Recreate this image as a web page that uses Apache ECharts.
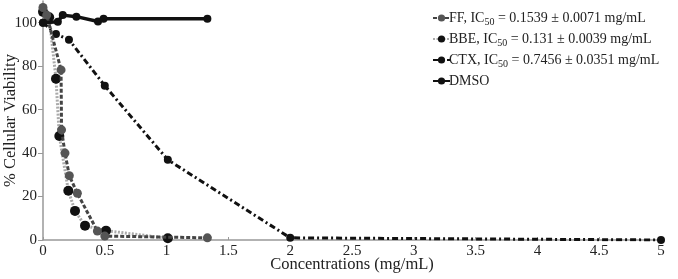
<!DOCTYPE html>
<html>
<head>
<meta charset="utf-8">
<script src="https://cdn.jsdelivr.net/npm/echarts@6/dist/echarts.min.js"></script>
<style>
  html, body { margin: 0; padding: 0; background: #fff; }
  #main { width: 678px; height: 279px; }
</style>
</head>
<body>
<div id="main"></div>
<script>
// data: [concentration mg/mL, % viability]
const ffData = [[0, 107], [0.03, 103.5], [0.146, 78.3], [0.15, 50.7], [0.178, 40], [0.213, 29.6], [0.278, 21.5], [0.44, 4.1], [0.5, 1.8], [1.33, 1]];
const bbeData = [[0, 105], [0.05, 102.5], [0.105, 74.2], [0.132, 47.9], [0.205, 22.7], [0.259, 13.4], [0.34, 6.6], [0.51, 4.3], [1.01, 0.8]];
const ctxData = [[0, 100], [0.105, 94.8], [0.21, 92.2], [0.5, 71], [1.01, 36.9], [2, 1], [5, 0]];
const dmsoData = [[0, 100], [0.12, 100.5], [0.16, 103.5], [0.27, 102.8], [0.445, 100.6], [0.49, 101.8], [1.33, 101.8]];

const yTicks = [0, 20, 40, 60, 80, 100];
const legendText = {
  FF: 'FF, IC{sub|50} = 0.1539 ± 0.0071 mg/mL',
  BBE: 'BBE, IC{sub|50} = 0.131 ± 0.0039 mg/mL',
  CTX: 'CTX, IC{sub|50} = 0.7456 ± 0.0351 mg/mL',
  DMSO: 'DMSO'
};

const serif = 'Liberation Serif';
const myChart = echarts.init(document.getElementById('main'));

myChart.setOption({
  animation: false,
  grid: { left: 43, right: 17, top: 1, bottom: 39, outerBoundsMode: 'none' },
  legend: {
    orient: 'vertical',
    left: 427,
    top: 6,
    itemWidth: 17,
    itemHeight: 9,
    itemGap: 5,
    data: ['FF', 'BBE', 'CTX', 'DMSO'],
    formatter: (name) => legendText[name],
    textStyle: {
      fontFamily: serif, fontSize: 14, color: '#222', padding: [0, 0, 0, -6],
      rich: { sub: { fontFamily: serif, fontSize: 10, color: '#222', verticalAlign: 'bottom', padding: [8, 0, 0, 0] } }
    }
  },
  xAxis: {
    type: 'value', min: 0, max: 5, interval: 0.5,
    name: 'Concentrations (mg/mL)', nameLocation: 'middle', nameGap: 16, nameMoveOverlap: false,
    nameTextStyle: { fontFamily: serif, fontSize: 16.5, color: '#222' },
    axisLine: { lineStyle: { color: '#999', width: 1.5 } },
    axisTick: { inside: true, length: 3, lineStyle: { color: '#999' } },
    axisLabel: { fontFamily: serif, fontSize: 15, color: '#222', margin: 4 },
    splitLine: { show: false }
  },
  yAxis: {
    type: 'value', min: 0, max: 110,
    name: '% Cellular Viability', nameLocation: 'middle', nameGap: 24, nameMoveOverlap: false,
    nameTextStyle: { fontFamily: serif, fontSize: 16.5, color: '#222' },
    axisLine: { show: true, lineStyle: { color: '#999', width: 1.5 } },
    axisTick: { show: true, length: 5, customValues: yTicks, lineStyle: { color: '#999' } },
    axisLabel: { fontFamily: serif, fontSize: 15, color: '#222', margin: 6, customValues: yTicks },
    splitLine: { show: false }
  },
  series: [
    {
      name: 'CTX', type: 'line', data: ctxData, symbol: 'circle', symbolSize: 8,
      itemStyle: { color: '#111' },
      lineStyle: { color: '#111', width: 3, type: [6, 3, 2, 3] }, z: 3
    },
    {
      name: 'BBE', type: 'line', data: bbeData, symbol: 'circle', symbolSize: 10,
      itemStyle: { color: '#111' },
      lineStyle: { color: '#aaa', width: 3, type: [2, 1.5] }, z: 4
    },
    {
      name: 'FF', type: 'line', data: ffData, symbol: 'circle', symbolSize: 9,
      itemStyle: { color: '#555' },
      lineStyle: { color: '#444', width: 3, type: [4, 2] }, z: 5
    },
    {
      name: 'DMSO', type: 'line', data: dmsoData, symbol: 'circle', symbolSize: 8,
      itemStyle: { color: '#111' },
      lineStyle: { color: '#111', width: 3.5 }, z: 6
    }
  ]
});
</script>
</body>
</html>
